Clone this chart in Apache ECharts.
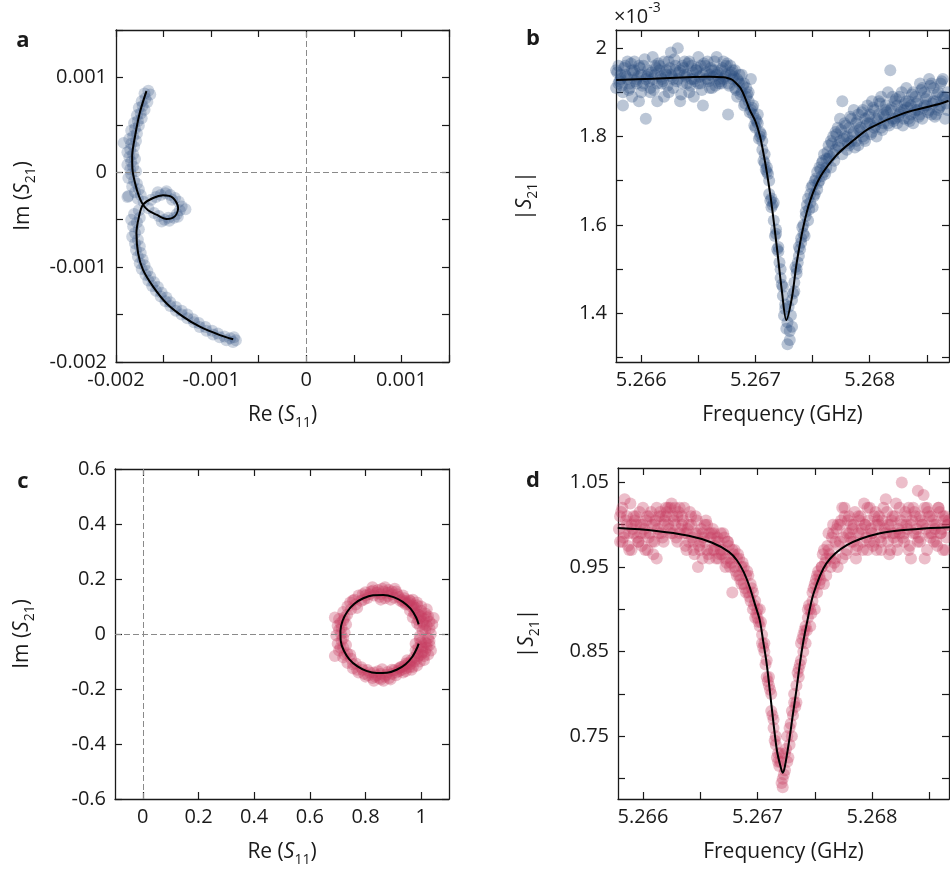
<!DOCTYPE html>
<html><head><meta charset="utf-8">
<script src="https://cdn.jsdelivr.net/npm/echarts/dist/echarts.min.js"></script>
<style>html,body{margin:0;padding:0;background:#fff}#c{width:950px;height:876px}</style>
</head><body><div id="c"></div>
<script>
// ---------------- DATA ----------------
// Frequency sweep (GHz) shared by panels b and d
const freq = [
5.26578,5.2658,5.26582,5.26584,5.26586,5.26588,5.2659,5.26592,5.26594,5.26596,
5.26598,5.266,5.26602,5.26604,5.26606,5.26608,5.2661,5.26612,5.26614,5.26616,
5.26618,5.2662,5.26622,5.26624,5.26626,5.26628,5.2663,5.26632,5.26634,5.26636,
5.26638,5.2664,5.26642,5.26644,5.26646,5.26648,5.2665,5.26652,5.26654,5.26656,
5.26658,5.2666,5.26662,5.26664,5.26666,5.26668,5.2667,5.26672,5.26674,5.26676,
5.26678,5.2668,5.26682,5.26684,5.26686,5.26688,5.2669,5.26692,5.26694,5.26696,
5.26698,5.267,5.26702,5.26704,5.26706,5.26708,5.2671,5.26712,5.26714,5.26716,
5.26718,5.2672,5.26722,5.26724,5.26726,5.26728,5.2673,5.26732,5.26734,5.26736,
5.26738,5.2674,5.26742,5.26744,5.26746,5.26748,5.2675,5.26752,5.26754,5.26756,
5.26758,5.2676,5.26762,5.26764,5.26766,5.26768,5.2677,5.26772,5.26774,5.26776,
5.26778,5.2678,5.26782,5.26784,5.26786,5.26788,5.2679,5.26792,5.26794,5.26796,
5.26798,5.268,5.26802,5.26804,5.26806,5.26808,5.2681,5.26812,5.26814,5.26816,
5.26818,5.2682,5.26822,5.26824,5.26826,5.26828,5.2683,5.26832,5.26834,5.26836,
5.26838,5.2684,5.26842,5.26844,5.26846,5.26848,5.2685,5.26852,5.26854,5.26856,
5.26858,5.2686,5.26862,5.26864,5.26866,5.26868];
// Interleaved sweep frequencies (GHz)
const freqMid = [
5.26579,5.26581,5.26583,5.26585,5.26587,5.26589,5.26591,5.26593,5.26595,5.26597,
5.26599,5.26601,5.26603,5.26605,5.26607,5.26609,5.26611,5.26613,5.26615,5.26617,
5.26619,5.26621,5.26623,5.26625,5.26627,5.26629,5.26631,5.26633,5.26635,5.26637,
5.26639,5.26641,5.26643,5.26645,5.26647,5.26649,5.26651,5.26653,5.26655,5.26657,
5.26659,5.26661,5.26663,5.26665,5.26667,5.26669,5.26671,5.26673,5.26675,5.26677,
5.26679,5.26681,5.26683,5.26685,5.26687,5.26689,5.26691,5.26693,5.26695,5.26697,
5.26699,5.26701,5.26703,5.26705,5.26707,5.26709,5.26711,5.26713,5.26715,5.26717,
5.26719,5.26721,5.26723,5.26725,5.26727,5.26729,5.26731,5.26733,5.26735,5.26737,
5.26739,5.26741,5.26743,5.26745,5.26747,5.26749,5.26751,5.26753,5.26755,5.26757,
5.26759,5.26761,5.26763,5.26765,5.26767,5.26769,5.26771,5.26773,5.26775,5.26777,
5.26779,5.26781,5.26783,5.26785,5.26787,5.26789,5.26791,5.26793,5.26795,5.26797,
5.26799,5.26801,5.26803,5.26805,5.26807,5.26809,5.26811,5.26813,5.26815,5.26817,
5.26819,5.26821,5.26823,5.26825,5.26827,5.26829,5.26831,5.26833,5.26835,5.26837,
5.26839,5.26841,5.26843,5.26845,5.26847,5.26849,5.26851,5.26853,5.26855,5.26857,
5.26859,5.26861,5.26863,5.26865,5.26867];

// Panel b: |S21| (x1e-3)
const magB1 = [
1.95,1.92,1.94,1.90,1.96,1.93,1.91,1.95,1.97,1.92,
1.88,1.94,1.96,1.93,1.95,1.90,1.98,1.94,1.92,1.96,
1.93,1.89,1.95,1.97,1.94,1.91,1.96,1.93,1.95,1.92,
1.97,1.94,1.90,1.96,1.93,1.95,1.98,1.92,1.94,1.96,
1.93,1.91,1.95,1.97,1.94,1.92,
1.95,1.93,1.96,1.92,1.94,1.95,1.91,1.93,1.94,1.90,
1.92,1.89,1.88,1.86,1.87,1.84,1.83,1.80,1.79,1.76,
1.72,1.70,1.66,1.61,1.58,1.55,1.48,1.44,1.41,1.38,
1.34,1.43,1.47,1.50,1.55,1.57,1.60,1.62,1.66,1.65,
1.69,1.67,1.72,1.70,1.74,1.72,1.75,1.78,1.73,1.80,
1.77,1.82,1.79,1.76,1.83,1.80,1.78,1.84,1.81,1.79,
1.85,1.82,1.80,1.84,1.87,1.83,1.81,1.86,1.84,1.88,
1.82,1.85,1.87,1.83,1.86,1.89,1.84,1.87,1.85,1.90,
1.86,1.88,1.84,1.87,1.90,1.86,1.88,1.85,1.91,1.87,
1.89,1.86,1.92,1.88,1.85,1.90,1.87,1.93,1.89,1.86];
const magB2 = [
1.91,1.96,1.93,1.87,1.94,1.97,1.92,1.89,1.95,1.93,
1.96,1.90,1.92,1.84,1.94,1.91,1.93,1.96,1.88,1.95,
1.92,1.97,1.94,1.90,1.99,1.93,1.95,2.00,1.88,1.96,
1.94,1.92,1.97,1.93,1.89,1.95,1.92,1.96,1.87,1.93,
1.97,1.94,1.91,1.95,1.98,1.93,
1.92,1.97,1.94,1.85,1.96,1.93,1.95,1.89,1.92,1.94,
1.87,1.91,1.90,1.93,1.85,1.82,1.85,1.81,1.77,1.74,
1.73,1.67,1.64,1.65,1.59,1.54,1.50,1.46,1.42,1.33,
1.36,1.37,1.45,1.49,1.53,1.56,1.58,1.63,1.61,1.67,
1.64,1.70,1.68,1.73,1.71,1.76,1.73,1.75,1.79,1.76,
1.81,1.78,1.84,1.88,1.80,1.77,1.82,1.79,1.86,1.83,
1.78,1.81,1.86,1.79,1.83,1.85,1.88,1.82,1.80,1.85,
1.89,1.83,1.86,1.90,1.95,1.84,1.88,1.83,1.89,1.86,
1.84,1.91,1.88,1.85,1.83,1.89,1.86,1.92,1.84,1.90,
1.87,1.93,1.85,1.91,1.88,1.86,1.92,1.89,1.84,1.90];
const magB3 = [
1.945,1.925,1.915,1.955,1.935,1.905,1.965,1.945,1.925,1.935,
1.955,1.915,1.975,1.935,1.925,1.945,1.905,1.955,1.965,1.935,
1.925,1.945,1.915,1.955,1.935,1.975,1.925,1.945,1.895,1.955,
1.935,1.965,1.915,1.945,1.925,1.955,1.935,1.905,1.965,1.945,
1.925,1.955,1.935,1.915,1.945,
1.925,1.955,1.935,1.965,1.915,1.945,1.935,1.905,1.925,1.895,
1.915,1.875,1.895,1.855,1.865,1.825,1.835,1.795,1.805,1.745,
1.725,1.715,1.655,1.645,1.575,1.545,1.515,1.465,1.395,1.365,
1.415,1.395,1.445,1.505,1.515,1.545,1.595,1.575,1.645,1.635,
1.685,1.665,1.705,1.695,1.725,1.745,1.715,1.765,1.755,1.785,
1.745,1.805,1.775,1.815,1.795,
1.825,1.785,1.845,1.805,1.775,1.835,1.815,1.855,1.795,1.825,
1.845,1.805,1.865,1.825,1.835,1.875,1.815,1.845,1.855,1.825,
1.865,1.835,1.885,1.845,1.855,1.825,1.875,1.865,1.835,1.895,
1.855,1.875,1.845,1.905,1.865,1.885,1.855,1.915,1.875,1.845,
1.895,1.865,1.925,1.885,1.875];
const fitB = [[5.26578,1.928],[5.2661,1.931],[5.2664,1.934],[5.2666,1.935],[5.26672,1.934],[5.26676,1.932],[5.2668,1.928],
[5.26684,1.918],[5.26687,1.909],[5.26691,1.887],[5.26695,1.86],[5.267,1.834],[5.26704,1.80],[5.26707,1.762],
[5.2671,1.718],[5.26714,1.649],[5.26719,1.543],[5.26723,1.453],[5.26727,1.385],[5.26732,1.437],[5.26736,1.513],
[5.26742,1.597],[5.26748,1.656],[5.26757,1.71],[5.26771,1.758],[5.26786,1.792],[5.268,1.819],[5.2683,1.853],
[5.2686,1.873],[5.26869,1.881]];

// Panel d: |S21|
const magD1 = [
1.00,0.98,1.02,0.99,1.01,0.97,1.00,0.99,1.01,0.98,1.00,1.02,0.99,0.97,1.01,1.00,0.98,1.02,0.99,1.01,0.98,
1.01,1.02,0.99,1.01,1.00,0.98,1.02,1.01,0.99,0.97,1.00,1.01,0.98,0.99,0.95,0.97,0.99,0.98,1.00,0.96,
0.99,0.97,0.98,0.96,0.99,0.97,0.95,0.98,0.96,0.97,0.95,0.96,0.94,0.95,0.93,
0.94,0.92,0.93,0.90,0.91,0.89,0.90,0.87,0.86,0.84,0.82,0.78,0.77,0.74,0.73,0.72,0.70,0.73,
0.75,0.74,0.78,0.80,0.79,0.83,0.86,0.85,0.88,0.89,0.90,0.91,0.93,0.92,0.94,0.95,0.93,0.96,
0.97,0.95,0.99,0.96,1.00,0.98,0.96,1.01,0.97,0.99,1.00,0.98,0.96,1.01,0.99,0.97,1.00,1.02,
0.98,0.99,1.01,0.97,1.00,0.98,1.02,0.99,1.00,0.97,1.01,0.99,0.98,1.02,1.00,0.99,1.01,0.97,
1.00,1.02,0.99,0.98,1.01,1.00,0.96,1.02,0.99,1.01,0.98,1.00,1.02,0.99,0.97,1.01,1.00,0.99];
const magD2 = [
0.99,1.01,0.98,1.03,1.00,0.99,0.97,1.01,1.00,0.98,0.99,1.00,0.97,1.01,0.99,0.98,1.00,0.96,1.01,0.99,1.00,
1.02,1.00,1.02,0.99,1.02,1.01,0.99,1.00,1.02,0.99,0.98,1.00,0.97,1.01,0.99,0.98,0.96,1.00,0.97,0.99,
0.97,0.99,0.96,0.98,0.97,0.99,0.96,0.98,0.95,0.92,0.97,0.94,0.96,0.93,0.95,
0.92,0.94,0.91,0.92,0.89,0.90,0.88,0.86,0.85,0.82,0.81,0.80,0.76,0.75,0.72,0.73,0.69,0.71,
0.72,0.76,0.75,0.79,0.81,0.82,0.84,0.87,0.86,0.90,0.88,0.92,0.90,0.94,0.93,0.95,0.97,0.94,
0.99,0.96,1.00,0.98,0.95,1.00,1.02,1.02,0.99,1.01,0.98,1.00,0.97,0.99,1.01,0.98,1.00,0.97,
1.02,0.99,0.98,1.00,1.01,0.97,0.99,1.03,0.98,1.00,0.99,1.01,0.97,0.99,1.05,0.98,1.00,1.02,
0.96,0.99,1.01,1.04,0.98,1.00,1.02,0.97,1.01,0.99,1.00,0.98,1.02,0.99,1.01,0.97,1.00,1.02];
const magD3 = [
0.995,1.015,0.985,1.005,0.975,1.025,0.995,1.005,0.985,1.015,
0.975,0.995,1.005,0.985,1.015,0.965,1.005,0.995,1.015,0.985,
1.005,1.015,0.995,1.025,1.005,0.985,1.015,0.995,1.005,0.975,
0.995,1.015,0.985,0.965,1.005,0.975,0.995,0.985,1.005,0.965,
0.985,0.995,0.975,0.985,0.965,
0.965,0.985,0.955,0.975,0.955,0.965,0.945,0.965,0.935,0.955,
0.925,0.945,0.915,0.925,0.905,0.895,0.885,0.885,0.855,0.835,
0.815,0.805,0.775,0.745,0.725,0.715,0.695,0.705,0.735,0.725,
0.765,0.775,0.785,0.825,0.835,0.865,0.875,0.875,0.905,0.895,
0.925,0.935,0.945,0.935,0.965,0.955,0.975,0.965,0.985,0.955,
0.995,0.975,1.005,0.985,0.965,
1.005,0.985,0.995,1.015,0.975,1.005,0.995,1.025,0.985,1.005,
0.995,0.975,1.015,1.005,0.985,1.005,0.995,1.015,0.965,1.005,
0.985,1.025,0.995,1.005,0.985,1.015,0.995,0.975,1.005,1.015,
0.995,0.985,1.005,1.035,0.995,1.015,0.985,1.005,0.995,0.975,
1.015,0.995,1.005,0.985,1.005];
const fitD = [[5.26578,0.996],[5.2661,0.993],[5.2664,0.987],[5.2666,0.979],[5.26675,0.968],[5.26682,0.958],
[5.26688,0.944],[5.26693,0.927],[5.26698,0.905],[5.26702,0.887],[5.26705,0.862],[5.26708,0.836],[5.26711,0.801],
[5.26714,0.765],[5.26717,0.733],[5.2672,0.715],[5.26722,0.707],[5.26724,0.715],[5.26728,0.748],[5.26731,0.777],
[5.26734,0.805],[5.26737,0.836],[5.2674,0.862],[5.26743,0.883],[5.26749,0.919],[5.2676,0.954],[5.26778,0.976],
[5.26807,0.99],[5.2684,0.995],[5.26868,0.997]];

// Panel a: complex S21 (Re, Im)
const cplxA = [
[-0.00166,0.00086],[-0.00170,0.00083],[-0.00164,0.00082],[-0.00169,0.00078],[-0.00173,0.00075],[-0.00167,0.00074],
[-0.00172,0.00070],[-0.00176,0.00068],[-0.00170,0.00066],[-0.00174,0.00062],[-0.00178,0.00060],[-0.00173,0.00057],
[-0.00177,0.00054],[-0.00181,0.00052],[-0.00176,0.00049],[-0.00180,0.00046],[-0.00184,0.00044],[-0.00178,0.00041],
[-0.00182,0.00038],[-0.00186,0.00035],[-0.00179,0.00033],[-0.00184,0.00030],[-0.00192,0.00031],[-0.00181,0.00027],
[-0.00185,0.00024],[-0.00188,0.00021],[-0.00182,0.00019],[-0.00186,0.00016],[-0.00180,0.00014],[-0.00184,0.00011],
[-0.00188,0.00008],[-0.00182,0.00006],[-0.00185,0.00003],[-0.00179,0.00001],[-0.00184,-0.00002],[-0.00187,-0.00006],
[-0.00181,-0.00009],[-0.00178,-0.00012],[-0.00183,-0.00015],[-0.00176,-0.00018],[-0.00180,-0.00021],[-0.00174,-0.00024],
[-0.00187,-0.00025],[-0.00188,-0.00026],[-0.00177,-0.00028],[-0.00171,-0.00031],
[-0.00166,-0.00038],[-0.00160,-0.00043],[-0.00155,-0.00046],[-0.00149,-0.00050],[-0.00144,-0.00051],[-0.00139,-0.00048],
[-0.00136,-0.00044],[-0.00133,-0.00040],[-0.00131,-0.00036],[-0.00134,-0.00031],[-0.00138,-0.00027],[-0.00143,-0.00024],
[-0.00148,-0.00022],[-0.00153,-0.00024],[-0.00158,-0.00026],[-0.00163,-0.00029],[-0.00156,-0.00021],[-0.00145,-0.00048],
[-0.00152,-0.00052],[-0.00135,-0.00047],[-0.00141,-0.00029],[-0.00127,-0.00039],[-0.00147,-0.00020],
[-0.00176,-0.00040],[-0.00181,-0.00044],[-0.00175,-0.00048],[-0.00184,-0.00050],[-0.00178,-0.00053],[-0.00182,-0.00057],
[-0.00176,-0.00060],[-0.00180,-0.00064],[-0.00183,-0.00068],[-0.00177,-0.00071],[-0.00180,-0.00075],[-0.00175,-0.00078],
[-0.00179,-0.00082],[-0.00174,-0.00085],[-0.00177,-0.00089],[-0.00172,-0.00092],[-0.00175,-0.00096],[-0.00170,-0.00098],
[-0.00173,-0.00102],[-0.00167,-0.00104],[-0.00169,-0.00108],[-0.00164,-0.00110],[-0.00166,-0.00114],[-0.00160,-0.00116],
[-0.00162,-0.00120],[-0.00156,-0.00121],[-0.00158,-0.00125],[-0.00152,-0.00127],[-0.00153,-0.00131],[-0.00147,-0.00132],
[-0.00148,-0.00136],[-0.00143,-0.00137],[-0.00143,-0.00141],[-0.00137,-0.00142],[-0.00137,-0.00146],[-0.00131,-0.00146],
[-0.00131,-0.00150],[-0.00125,-0.00150],[-0.00125,-0.00154],[-0.00119,-0.00155],[-0.00118,-0.00158],[-0.00113,-0.00159],
[-0.00112,-0.00163],[-0.00106,-0.00163],[-0.00105,-0.00167],[-0.00099,-0.00167],[-0.00098,-0.00171],[-0.00093,-0.00170],
[-0.00091,-0.00174],[-0.00086,-0.00173],[-0.00084,-0.00177],[-0.00080,-0.00175],[-0.00077,-0.00179],[-0.00074,-0.00177],
[-0.00076,-0.00174]];
const fitA = [[-0.00168,0.000856],[-0.00175,0.000628],[-0.0018,0.00038],[-0.00183,0.000169],[-0.001827,0.00003],
[-0.0018,-0.000112],[-0.001758,-0.000254],[-0.001716,-0.000342],[-0.001663,-0.0004],[-0.001575,-0.000447],
[-0.00147,-0.000493],[-0.001382,-0.000465],[-0.001347,-0.000376],[-0.0014,-0.000271],[-0.001505,-0.000243],
[-0.00161,-0.000271],[-0.001716,-0.000342],[-0.001758,-0.000465],[-0.001785,-0.000641],[-0.001768,-0.000852],
[-0.001716,-0.001029],[-0.00161,-0.001205],[-0.00147,-0.00138],[-0.001295,-0.001522],[-0.001119,-0.001628],
[-0.000908,-0.001716],[-0.000768,-0.001761]];

// Panel c: complex S21 (Re, Im)
const cplxC = [
[1.005,0.012],[0.995,-0.008],[1.02,0.03],[1.015,-0.03],[0.985,0.04],[1.01,0.055],[1.03,0.02],[1.0,-0.045],[1.025,-0.015],[0.98,-0.035],
[1.045,0.058],[0.99,0.07],[1.0,0.085],[0.975,0.09],[0.965,0.1],[0.985,0.105],[0.955,0.115],[0.94,0.12],[0.97,0.125],[0.96,0.085],
[1.015,0.075],[1.03,0.045],[0.995,0.03],[1.02,-0.05],[1.005,-0.065],[0.99,-0.08],[1.01,-0.095],[0.975,-0.1],[0.96,-0.11],[0.985,-0.115],
[0.945,-0.125],[0.93,-0.13],[0.965,-0.13],[0.95,-0.095],[1.025,-0.075],[1.03,-0.04],[0.98,-0.06],[0.97,0.06],[1.035,-0.06],[1.02,0.09],
[0.99,0.05],[1.0,0.065],[1.01,0.035],[0.98,0.075],[0.97,0.105],[0.95,0.11],[0.995,-0.02],[1.0,-0.03],[0.99,-0.05],[0.985,-0.07],
[0.975,-0.085],[0.965,-0.095],[0.955,-0.105],[0.94,-0.115],[1.01,-0.08],[1.02,-0.035],[1.015,0.015],[0.98,0.095],[0.93,0.125],[0.92,-0.125],
[1.0,0.1],[0.985,0.115],[0.97,-0.12],[0.995,-0.1],[1.035,0.0],[1.025,0.065],[0.96,0.12],[0.945,-0.135],
[1.005,0.045],[0.995,0.06],[1.02,0.06],[1.005,-0.05],[1.0,-0.075],[0.985,-0.09],[1.015,-0.065],[0.975,0.075],[1.03,-0.025],[1.04,0.035],
[0.945,0.107],[0.958,0.123],[0.925,0.121],[0.935,0.14],[0.903,0.132],[0.91,0.155],[0.88,0.138],[0.883,0.16],
[0.855,0.145],[0.855,0.125],[0.86,0.165],[0.83,0.14],[0.828,0.158],[0.807,0.131],[0.80,0.152],[0.785,0.121],
[0.775,0.14],[0.765,0.107],[0.755,0.122],[0.87,0.17],[0.895,0.145],[0.84,0.15],[0.815,0.145],[0.795,0.125],
[0.92,0.135],[0.94,0.13],[0.85,0.135],[0.79,0.145],[0.825,0.17],[0.88,0.15],[0.905,0.165],
[0.76,0.125],[0.745,0.115],[0.77,0.095],[0.8,0.14],[0.82,0.155],[0.845,0.16],[0.87,0.13],[0.895,0.155],[0.915,0.145],[0.935,0.115],[0.89,0.125],[0.865,0.155],
[0.748,0.09],[0.735,0.10],[0.734,0.07],[0.72,0.08],[0.72,0.049],[0.705,0.055],[0.714,0.024],[0.70,0.03],
[0.712,0.0],[0.695,-0.005],[0.725,0.005],[0.714,-0.024],[0.70,-0.035],[0.72,-0.049],[0.705,-0.06],[0.734,-0.07],
[0.72,-0.085],[0.748,-0.09],[0.735,-0.105],[0.69,-0.08],[0.69,0.06],
[0.725,0.06],[0.71,0.04],[0.73,0.035],[0.705,0.015],[0.72,-0.015],[0.71,-0.05],[0.73,-0.04],[0.725,-0.075],[0.745,-0.075],
[0.765,-0.107],[0.755,-0.125],[0.785,-0.121],[0.775,-0.14],[0.807,-0.131],[0.80,-0.155],[0.83,-0.14],[0.825,-0.16],
[0.855,-0.145],[0.855,-0.165],[0.86,-0.128],[0.88,-0.138],[0.885,-0.16],[0.903,-0.132],[0.91,-0.15],[0.925,-0.121],
[0.935,-0.14],[0.945,-0.107],[0.958,-0.12],[0.87,-0.155],[0.84,-0.15],[0.895,-0.145],[0.815,-0.14],[0.79,-0.13],
[0.92,-0.135],[0.865,-0.17],[0.83,-0.17],
[0.755,-0.11],[0.77,-0.13],[0.795,-0.145],[0.81,-0.15],[0.835,-0.155],[0.85,-0.16],[0.875,-0.148],[0.895,-0.13],[0.91,-0.14],[0.93,-0.12],[0.89,-0.165],[0.845,-0.135]];
const fitC = [[0.991,0.035],[0.982,0.06],[0.962,0.092],[0.934,0.117],[0.901,0.134],[0.864,0.142],[0.827,0.141],
[0.792,0.13],[0.76,0.11],[0.735,0.082],[0.718,0.049],[0.71,0.012],[0.711,-0.025],[0.722,-0.06],[0.742,-0.092],
[0.77,-0.117],[0.803,-0.134],[0.84,-0.142],[0.877,-0.141],[0.912,-0.13],[0.944,-0.11],[0.969,-0.082],[0.986,-0.049],
[0.991,-0.035]];

// Tick values
const ticksA = [-0.002,-0.0015,-0.001,-0.0005,0,0.0005,0.001,0.0015];
const labelsA = [-0.002,-0.001,0,0.001];
const ticksF = [5.266,5.2665,5.267,5.2675,5.268,5.2685];
const labelsF = [5.266,5.267,5.268];
const ticksBy = [1.3,1.4,1.5,1.6,1.7,1.8,1.9,2.0];
const labelsBy = [1.4,1.6,1.8,2.0];
const ticksCx = [0,0.2,0.4,0.6,0.8,1.0];
const ticksCy = [-0.6,-0.4,-0.2,0,0.2,0.4,0.6];
const ticksDy = [0.7,0.75,0.8,0.85,0.9,0.95,1.0,1.05];
const labelsDy = [0.75,0.85,0.95,1.05];

// ---------------- CHART ----------------
const FONT = '"Open Sans","Noto Sans",sans-serif';
const INK = '#1a1a1a';
const BLUE = 'rgba(45,78,128,0.4)';
const BLUE_A = 'rgba(45,78,128,0.3)';
const PINK = 'rgba(198,62,98,0.42)';
const rich = {
  t: {fontFamily: FONT, fontSize: 21, color: INK, lineHeight: 30},
  i: {fontFamily: FONT, fontSize: 21, fontStyle: 'italic', color: INK, lineHeight: 30},
  s: {fontFamily: FONT, fontSize: 14, color: INK, lineHeight: 14, verticalAlign: 'bottom'}
};
function ax(gridIndex, min, max, ticks, pos, labels, fmt, name, nameGap, isY) {
  const o = {
    type: 'value', gridIndex, min, max, position: pos,
    axisLine: {show: true, onZero: false, lineStyle: {color: INK, width: 1.3}},
    axisTick: {show: true, inside: true, length: 7, customValues: ticks, lineStyle: {color: INK, width: 1.2}},
    splitLine: {show: false},
    axisLabel: {show: false}
  };
  if (labels) {
    o.axisLabel = {show: true, customValues: labels, formatter: fmt, color: INK,
      fontFamily: FONT, fontSize: 20, margin: isY ? 9 : 8};
    o.name = name; o.nameLocation = 'middle'; o.nameGap = nameGap;
    if (isY) o.nameRotate = 90;
    o.nameTextStyle = {rich: rich, color: INK, fontFamily: FONT, fontSize: 21};
  }
  return o;
}
const fmtA = v => { const r = Math.round(v * 1e4) / 1e4; return r === 0 ? '0' : String(r); };
const fmt1 = v => String(Math.round(v * 10) / 10);
const fmt2 = v => (Math.round(v * 100) / 100).toFixed(2);
const fmtF = v => v.toFixed(3);
const reName = '{t|Re (}{i|S}{s|11}{t|)}';
const imName = '{t|Im (}{i|S}{s|21}{t|)}';
const magName = '{t||}{i|S}{s|21}{t||}';
const fqName = '{t|Frequency (GHz)}';

const grids = [
  {left: 116, top: 30, width: 333, height: 332},
  {left: 616, top: 30, width: 333, height: 332},
  {left: 115, top: 469, width: 334, height: 330},
  {left: 618, top: 468, width: 331, height: 331}
];
const fMinB = 5.265779, fMaxB = 5.268694, fMinD = 5.265782, fMaxD = 5.268672;
const xAxes = [
  ax(0, -0.002, 0.0015, ticksA, 'bottom', labelsA, fmtA, reName, 38, false),
  ax(0, -0.002, 0.0015, ticksA, 'top'),
  ax(1, fMinB, fMaxB, ticksF, 'bottom', labelsF, fmtF, fqName, 38, false),
  ax(1, fMinB, fMaxB, ticksF, 'top'),
  ax(2, -0.1, 1.1, ticksCx, 'bottom', ticksCx, fmt1, reName, 38, false),
  ax(2, -0.1, 1.1, ticksCx, 'top'),
  ax(3, fMinD, fMaxD, ticksF, 'bottom', labelsF, fmtF, fqName, 38, false),
  ax(3, fMinD, fMaxD, ticksF, 'top')
];
const yAxes = [
  ax(0, -0.002, 0.0015, ticksA, 'left', labelsA, fmtA, imName, 78, true),
  ax(0, -0.002, 0.0015, ticksA, 'right'),
  ax(1, 1.29, 2.041, ticksBy, 'left', labelsBy, fmt1, magName, 76, true),
  ax(1, 1.29, 2.041, ticksBy, 'right'),
  ax(2, -0.6, 0.6, ticksCy, 'left', ticksCy, fmt1, imName, 78, true),
  ax(2, -0.6, 0.6, ticksCy, 'right'),
  ax(3, 0.676, 1.067, ticksDy, 'left', labelsDy, fmt2, magName, 76, true),
  ax(3, 0.676, 1.067, ticksDy, 'right')
];
const zeroLines = {
  silent: true, symbol: ['none', 'none'], label: {show: false},
  lineStyle: {type: [6, 3], color: '#8a8a8a', width: 1},
  data: [{xAxis: 0}, {yAxis: 0}]
};
function scatter(xi, data, color) {
  return {type: 'scatter', xAxisIndex: xi, yAxisIndex: xi, data, symbolSize: 12,
    itemStyle: {color: color}, z: 2, silent: true};
}
function fit(xi, data) {
  return {type: 'line', xAxisIndex: xi, yAxisIndex: xi, data, showSymbol: false, smooth: 0.3,
    lineStyle: {color: '#000', width: 2}, z: 5, silent: true};
}
const sA = scatter(0, cplxA, BLUE_A); sA.markLine = zeroLines;
const sC = scatter(4, cplxC, PINK); sC.markLine = zeroLines;
const series = [
  sA, fit(0, fitA),
  scatter(2, freq.map((f, i) => [f, magB1[i]]), BLUE),
  scatter(2, freq.map((f, i) => [f, magB2[i]]), BLUE),
  scatter(2, freqMid.map((f, i) => [f, magB3[i]]), BLUE),
  fit(2, fitB),
  sC, fit(4, fitC),
  scatter(6, freq.map((f, i) => [f, magD1[i]]), PINK),
  scatter(6, freq.map((f, i) => [f, magD2[i]]), PINK),
  scatter(6, freqMid.map((f, i) => [f, magD3[i]]), PINK),
  fit(6, fitD)
];
function letter(t, x, y) {
  return {type: 'text', x, y, style: {text: t, font: 'bold 22px ' + FONT, fill: INK, align: 'center', verticalAlign: 'middle'}};
}
const chart = echarts.init(document.getElementById('c'), null, {renderer: 'canvas'});
chart.setOption({
  animation: false,
  backgroundColor: '#fff',
  grid: grids,
  xAxis: xAxes,
  yAxis: yAxes,
  series: series,
  graphic: [
    letter('a', 23, 41), letter('b', 533, 39), letter('c', 23, 482), letter('d', 533, 481),
    {type: 'text', x: 614, y: 1, style: {text: '{b|×10}{p|-3}', rich: {
      b: {fontFamily: FONT, fontSize: 20, fill: INK, lineHeight: 26, verticalAlign: 'bottom'},
      p: {fontFamily: FONT, fontSize: 14, fill: INK, lineHeight: 14, verticalAlign: 'top'}}}}
  ]
});
</script></body></html>
